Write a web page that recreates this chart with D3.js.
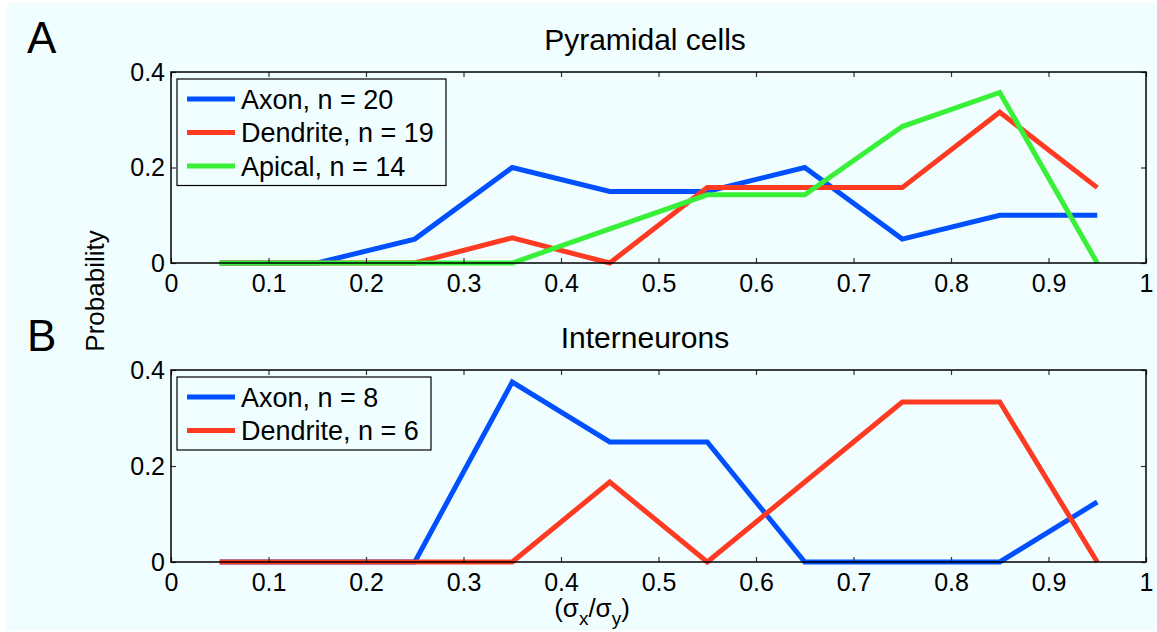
<!DOCTYPE html>
<html>
<head>
<meta charset="utf-8">
<script src="https://cdn.jsdelivr.net/npm/d3@7"></script>
<style>
  html, body { margin: 0; padding: 0; background: #ffffff; }
  svg { display: block; font-family: "Liberation Sans", Arial, sans-serif; }
</style>
</head>
<body>
<svg id="chart" width="1157" height="632"></svg>
<script>
// Bin centres of the (sigma_x / sigma_y) histogram
const binCenters = [0.05, 0.15, 0.25, 0.35, 0.45, 0.55, 0.65, 0.75, 0.85, 0.95];

// Pyramidal cells
const pyrAxon     = [0, 0, 1/20, 4/20, 3/20, 3/20, 4/20, 1/20, 2/20, 2/20];
const pyrDendrite = [0, 0, 0, 1/19, 0, 3/19, 3/19, 3/19, 6/19, 3/19];
const pyrApical   = [0, 0, 0, 0, 1/14, 2/14, 2/14, 4/14, 5/14, 0];

// Interneurons
const intAxon     = [0, 0, 0, 3/8, 2/8, 2/8, 0, 0, 0, 1/8];
const intDendrite = [0, 0, 0, 0, 1/6, 0, 1/6, 2/6, 2/6, 0];

const xTicks = [0, 0.1, 0.2, 0.3, 0.4, 0.5, 0.6, 0.7, 0.8, 0.9, 1];
const yTicks = [0, 0.2, 0.4];

const COLORS = { axon: "#0050ff", dendrite: "#ff3a22", apical: "#38f038" };

const panels = [
  {
    letter: "A", title: "Pyramidal cells", top: 72, bottom: 263,
    series: [
      { label: "Axon, n = 20", values: pyrAxon, color: COLORS.axon },
      { label: "Dendrite, n = 19", values: pyrDendrite, color: COLORS.dendrite },
      { label: "Apical, n = 14", values: pyrApical, color: COLORS.apical }
    ],
    legendWidth: 269
  },
  {
    letter: "B", title: "Interneurons", top: 370, bottom: 562,
    series: [
      { label: "Axon, n = 8", values: intAxon, color: COLORS.axon },
      { label: "Dendrite, n = 6", values: intDendrite, color: COLORS.dendrite }
    ],
    legendWidth: 254
  }
];

const svg = d3.select("#chart");
const W = 1157, H = 632;

// Figure background
svg.append("rect").attr("x", 7).attr("y", 3).attr("width", W - 7).attr("height", H - 4)
  .attr("fill", "#f0feff");

const left = 171, right = 1146;
const x = d3.scaleLinear().domain([0, 1]).range([left, right]);

panels.forEach(p => {
  const y = d3.scaleLinear().domain([0, 0.4]).range([p.bottom, p.top]);
  const g = svg.append("g");

  // Data lines
  const line = d3.line().x((d, i) => x(binCenters[i])).y(d => y(d));
  p.series.forEach(s => {
    g.append("path").datum(s.values)
      .attr("d", line)
      .attr("fill", "none")
      .attr("stroke", s.color)
      .attr("stroke-width", 5)
      .attr("stroke-linejoin", "miter");
  });

  // Axes with inward ticks
  const tickLen = 5;
  const xb = g.append("g").attr("transform", `translate(0,${p.bottom})`)
    .call(d3.axisBottom(x).tickValues(xTicks).tickSize(-tickLen).tickPadding(11)
      .tickFormat(d => d === 0 || d === 1 ? d3.format("d")(d) : d3.format(".1f")(d)));
  const xt = g.append("g").attr("transform", `translate(0,${p.top})`)
    .call(d3.axisTop(x).tickValues(xTicks).tickSize(-tickLen).tickFormat(""));
  const yl = g.append("g").attr("transform", `translate(${left},0)`)
    .call(d3.axisLeft(y).tickValues(yTicks).tickSize(-tickLen).tickPadding(6)
      .tickFormat(d => d === 0 ? "0" : d3.format(".1f")(d)));
  const yr = g.append("g").attr("transform", `translate(${right},0)`)
    .call(d3.axisRight(y).tickValues(yTicks).tickSize(-tickLen).tickFormat(""));

  [xb, xt, yl, yr].forEach(a => {
    a.select(".domain").remove();
    a.selectAll(".tick line").attr("stroke", "#333").attr("stroke-width", 1.2);
    a.selectAll(".tick text").attr("font-size", 25).attr("fill", "#000")
      .attr("font-family", "Liberation Sans, Arial, sans-serif");
  });
  xb.selectAll(".tick text").attr("dy", "0.71em");

  // Axes box
  g.append("rect").attr("x", left).attr("y", p.top)
    .attr("width", right - left).attr("height", p.bottom - p.top)
    .attr("fill", "none").attr("stroke", "#000").attr("stroke-width", 1.5);

  // Title
  svg.append("text").attr("x", 645).attr("y", p.top - 22)
    .attr("text-anchor", "middle").attr("font-size", 30).text(p.title);

  // Panel letter
  svg.append("text").attr("x", 27).attr("y", p.top - 19)
    .attr("font-size", 44).text(p.letter);

  // Legend
  const lg = svg.append("g").attr("transform", `translate(177,${p.top + 7})`);
  const rowH = 33.5;
  lg.append("rect").attr("width", p.legendWidth).attr("height", p.series.length * rowH + 6)
    .attr("fill", "#f0feff").attr("stroke", "#000").attr("stroke-width", 1.2);
  p.series.forEach((s, i) => {
    const cy = 20 + i * rowH;
    lg.append("line").attr("x1", 10).attr("x2", 58).attr("y1", cy).attr("y2", cy)
      .attr("stroke", s.color).attr("stroke-width", 5);
    lg.append("text").attr("x", 64).attr("y", cy).attr("dy", "0.36em")
      .attr("font-size", 27).text(s.label);
  });
});

// Shared y-axis label
svg.append("text")
  .attr("transform", "translate(104,291) rotate(-90)")
  .attr("text-anchor", "middle").attr("font-size", 26).text("Probability");

// x-axis label
const xl = svg.append("text").attr("x", 592).attr("y", 617)
  .attr("text-anchor", "middle").attr("font-size", 26);
xl.append("tspan").text("(σ");
xl.append("tspan").attr("font-size", 19).attr("dy", 8).text("x");
xl.append("tspan").attr("dy", -8).text("/σ");
xl.append("tspan").attr("font-size", 19).attr("dy", 8).text("y");
xl.append("tspan").attr("dy", -8).text(")");
</script>
</body>
</html>
